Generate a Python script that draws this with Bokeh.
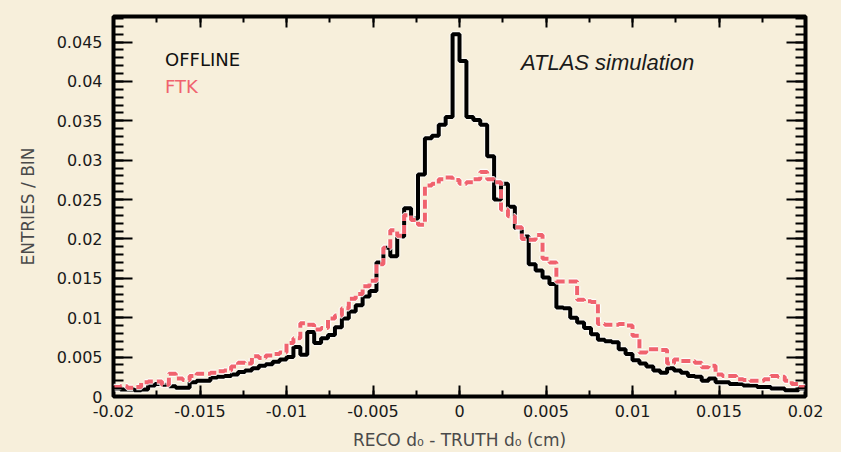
import numpy as np
from bokeh.plotting import figure
from bokeh.models import FixedTicker, LinearAxis, Label, Range1d, CustomLabelingPolicy
from bokeh.embed import file_html
from bokeh.resources import INLINE

# ---- data ----
bin_start = -0.02
bin_width = 0.0004

offline = [
    0.0010, 0.0009, 0.0009, 0.0008, 0.0009, 0.0014, 0.0016, 0.0015, 0.0013, 0.0011,
    0.0011, 0.0018, 0.0020, 0.0020, 0.0024, 0.0025, 0.0026, 0.0028, 0.0031, 0.0033,
    0.0036, 0.0039, 0.0041, 0.0044, 0.0047, 0.0050, 0.0063, 0.0053, 0.0082, 0.0068,
    0.0074, 0.0078, 0.0088, 0.0099, 0.0108, 0.0116, 0.0127, 0.0134, 0.0170, 0.0189,
    0.0178, 0.0203, 0.0239, 0.0226, 0.0282, 0.0328, 0.0331, 0.0345, 0.0355, 0.0460,
    0.0426, 0.0355, 0.0351, 0.0345, 0.0305, 0.0250, 0.0270, 0.0241, 0.0214, 0.0203,
    0.0168, 0.0160, 0.0151, 0.0143, 0.0113, 0.0112, 0.0100, 0.0094, 0.0087, 0.0079,
    0.0072, 0.0070, 0.0069, 0.0060, 0.0054, 0.0046, 0.0042, 0.0038, 0.0033, 0.0030,
    0.0036, 0.0033, 0.0030, 0.0026, 0.0025, 0.0020, 0.0023, 0.0018, 0.0018, 0.0016,
    0.0016, 0.0014, 0.0014, 0.0012, 0.0012, 0.0010, 0.0010, 0.0008, 0.0008, 0.0010,
]

ftk = [
    0.0012, 0.0013, 0.0011, 0.0012, 0.0018, 0.0019, 0.0019, 0.0015, 0.0029, 0.0023,
    0.0021, 0.0026, 0.0029, 0.0029, 0.0030, 0.0032, 0.0033, 0.0038, 0.0043, 0.0042,
    0.0051, 0.0049, 0.0052, 0.0054, 0.0056, 0.0068, 0.0074, 0.0093, 0.0091, 0.0085,
    0.0087, 0.0099, 0.0103, 0.0112, 0.0124, 0.0130, 0.0140, 0.0147, 0.0168, 0.0189,
    0.0211, 0.0204, 0.0230, 0.0224, 0.0218, 0.0268, 0.0270, 0.0276, 0.0278, 0.0275,
    0.0270, 0.0272, 0.0276, 0.0285, 0.0276, 0.0272, 0.0237, 0.0229, 0.0215, 0.0200,
    0.0199, 0.0205, 0.0175, 0.0170, 0.0146, 0.0146, 0.0146, 0.0123, 0.0121, 0.0120,
    0.0092, 0.0091, 0.0091, 0.0092, 0.0090, 0.0077, 0.0056, 0.0060, 0.0060, 0.0059,
    0.0042, 0.0047, 0.0045, 0.0045, 0.0043, 0.0037, 0.0039, 0.0028, 0.0026, 0.0026,
    0.0022, 0.0021, 0.0020, 0.0020, 0.0022, 0.0026, 0.0025, 0.0020, 0.0016, 0.0012,
]

x_tick_values = [-0.02, -0.015, -0.01, -0.005, 0.0, 0.005, 0.01, 0.015, 0.02]
x_tick_labels = ["-0.02", "-0.015", "-0.01", "-0.005", "0", "0.005", "0.01", "0.015", "0.02"]
y_tick_values = [0.0, 0.005, 0.01, 0.015, 0.02, 0.025, 0.03, 0.035, 0.04, 0.045]
y_tick_labels = ["0", "0.005", "0.01", "0.015", "0.02", "0.025", "0.03", "0.035", "0.04", "0.045"]

series_names = ["OFFLINE", "FTK"]
x_title = "RECO d\u2080 - TRUTH d\u2080 (cm)"
y_title = "ENTRIES / BIN"
note = "ATLAS simulation"

# ---- styles ----
BG = "#f7efdb"
RED = "#f0626e"
TICK_FONT = "DejaVu Sans"

edges = bin_start + bin_width * np.arange(len(offline) + 1)
off_y = np.append(offline, offline[-1])
ftk_y = np.append(ftk, ftk[-1])

p = figure(width=841, height=452, output_backend="svg", toolbar_location=None,
           x_range=Range1d(-0.02, 0.02), y_range=Range1d(0, 0.04825),
           min_border_left=113, min_border_right=29, min_border_top=10,
           min_border_bottom=56)
p.background_fill_color = BG
p.border_fill_color = BG
p.outline_line_color = "black"
p.outline_line_width = 4
p.grid.visible = False

x_minor = list(np.round(np.arange(-0.02, 0.02001, 0.0025), 6))
y_minor = list(np.round(np.arange(0.0, 0.0481, 0.001), 6))
xt = FixedTicker(ticks=x_tick_values, minor_ticks=x_minor)
yt = FixedTicker(ticks=y_tick_values, minor_ticks=y_minor)
no_labels = CustomLabelingPolicy(code="return new Set()")

def style_ticks(ax, ticker, major_len, minor_len):
    ax.ticker = ticker
    ax.axis_line_color = None
    ax.major_tick_in = major_len
    ax.major_tick_out = 0
    ax.minor_tick_in = minor_len
    ax.minor_tick_out = 0
    ax.major_tick_line_width = 2
    ax.minor_tick_line_width = 2
    ax.major_tick_line_color = "black"
    ax.minor_tick_line_color = "black"

def style_labels(ax, values, labels, standoff):
    ax.major_label_overrides = dict(zip(values, labels))
    ax.major_label_text_font = TICK_FONT
    ax.major_label_text_font_size = "16px"
    ax.major_label_text_color = "#1a1a1a"
    ax.major_label_standoff = standoff

xa = p.xaxis[0]
ya = p.yaxis[0]
style_ticks(xa, xt, 11, 6)
style_ticks(ya, yt, 19, 10)
style_labels(xa, x_tick_values, x_tick_labels, 8)
style_labels(ya, y_tick_values, y_tick_labels, 11)

xa.axis_label = x_title
xa.axis_label_text_font = "DejaVu Sans"
xa.axis_label_text_font_size = "17px"
xa.axis_label_text_font_style = "normal"
xa.axis_label_text_color = "#4a4a4a"
xa.axis_label_standoff = 10

ya.axis_label = y_title
ya.axis_label_text_font = "DejaVu Sans"
ya.axis_label_text_font_size = "17px"
ya.axis_label_text_font_style = "normal"
ya.axis_label_text_color = "#4a4a4a"
ya.axis_label_standoff = 16

top = LinearAxis(major_label_policy=no_labels)
style_ticks(top, xt, 11, 6)
p.add_layout(top, "above")
right = LinearAxis(major_label_policy=no_labels)
style_ticks(right, yt, 19, 10)
p.add_layout(right, "right")

# histograms
p.step(edges, off_y, mode="after", line_color="white", line_width=6.5, line_alpha=0.6)
p.step(edges, off_y, mode="after", line_color="black", line_width=4)
p.step(edges, ftk_y, mode="after", line_color="white", line_width=6.5, line_alpha=0.85,
       line_dash="9 4")
p.step(edges, ftk_y, mode="after", line_color=RED, line_width=4, line_dash="9 4")

# texts
p.add_layout(Label(x=-0.01702, y=0.0428, text=series_names[0], text_font="DejaVu Sans",
                   text_font_size="18px", text_color="#111111", text_baseline="middle"))
p.add_layout(Label(x=-0.01702, y=0.0394, text=series_names[1], text_font="DejaVu Sans",
                   text_font_size="18px", text_color=RED, text_baseline="middle"))
p.add_layout(Label(x=0.00355, y=0.0424, text=note, text_font="Liberation Sans",
                   text_font_style="italic", text_font_size="22px", text_color="#1a1a1a",
                   text_baseline="middle"))

html = file_html(p, INLINE, title="ATLAS d0 resolution")
html = html.replace("<head>", "<head><style>html,body{background:%s;}</style>" % BG, 1)
open("out.html", "w").write(html)
